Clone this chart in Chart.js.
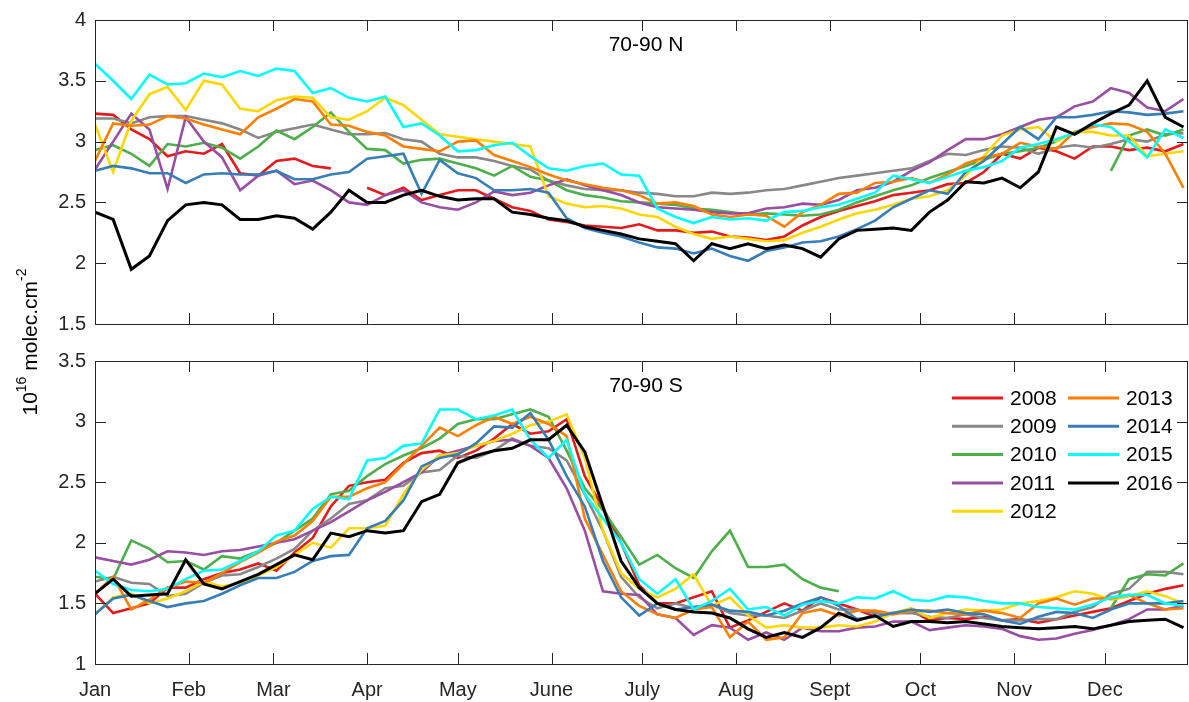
<!DOCTYPE html>
<html lang="en">
<head>
    <meta charset="UTF-8">
    <title>70-90 N / 70-90 S</title>
    <script src="https://cdn.jsdelivr.net/npm/chart.js"></script>
    <style>
        body {
            margin: 0;
            background-color: #fff;
        }
        #wrap {
            position: relative;
            width: 1189px;
            height: 702px;
        }
        #wrap canvas {
            position: absolute;
            left: 0;
            top: 0;
        }
    </style>
</head>
<body>
<div id="wrap">
    <canvas id="north" width="1189" height="702"></canvas>
    <canvas id="south" width="1189" height="702"></canvas>
</div>

<script>
    // day of year (every 6 days)
    const days = [0,6,12,18,24,30,36,42,48,54,60,66,72,78,84,90,96,102,108,114,120,126,132,138,144,150,156,162,168,174,180,
        186,192,198,204,210,216,222,228,234,240,246,252,258,264,270,276,282,288,294,300,306,312,318,324,330,336,342,348,354,360];

    const years = ['2008','2009','2010','2011','2012','2013','2014','2015','2016'];

    const monthTicks = [0,31,59,90,120,151,181,212,243,273,304,334];
    const monthLabels = ['Jan','Feb','Mar','Apr','May','June','July','Aug','Sept','Oct','Nov','Dec'];

    const yTicksN = [1.5, 2, 2.5, 3, 3.5, 4];
    const yTicksS = [1, 1.5, 2, 2.5, 3, 3.5];

    // 70-90 N
    const n2008 = [3.23,3.22,3.1,3.02,2.88,2.92,2.9,2.98,2.74,2.72,2.84,2.86,2.8,2.78,null,2.62,
        2.56,2.62,2.52,2.56,2.6,2.6,2.53,2.46,2.43,2.36,2.34,2.31,2.3,2.29,2.32,
        2.27,2.27,2.25,2.26,2.22,2.21,2.19,2.22,2.31,2.38,2.43,2.47,2.51,2.56,2.58,
        2.6,2.65,2.66,2.75,2.9,2.86,2.95,2.92,2.86,2.96,2.96,2.93,2.95,2.92,2.98];
    const n2009 = [3.19,3.19,3.15,3.2,3.21,3.21,3.18,3.15,3.1,3.03,3.08,3.11,3.14,3.1,3.06,3.06,
        3.07,3.02,3.0,2.9,2.87,2.87,2.84,2.8,2.77,2.68,2.64,2.61,2.6,2.6,2.58,
        2.57,2.55,2.55,2.58,2.57,2.58,2.6,2.61,2.64,2.67,2.7,2.72,2.74,2.76,2.78,
        2.84,2.9,2.89,2.93,2.96,2.95,2.9,2.95,2.97,2.95,2.98,3.02,3.0,3.06,3.07];
    const n2010 = [2.93,2.97,2.9,2.8,2.98,2.96,2.99,2.95,2.86,2.96,3.09,3.02,3.12,3.24,3.08,2.94,
        2.93,2.82,2.85,2.86,2.82,2.78,2.72,2.8,2.71,2.68,2.6,2.56,2.54,2.51,2.5,
        2.49,2.48,2.45,2.44,2.42,2.4,2.41,2.4,2.39,2.4,2.44,2.5,2.55,2.6,2.64,
        2.7,2.75,2.8,2.85,2.9,2.92,2.95,3.0,null,null,2.76,3.05,3.1,3.05,3.1];
    const n2011 = [2.77,3.0,3.23,3.1,2.61,3.2,3.0,2.87,2.6,2.72,2.76,2.65,2.68,2.6,2.5,2.48,
        2.56,2.6,2.5,2.46,2.44,2.5,2.59,2.56,2.58,2.64,2.69,2.64,2.6,2.56,2.5,
        2.46,2.45,2.44,2.42,2.41,2.41,2.45,2.46,2.49,2.48,2.52,2.6,2.62,2.67,2.76,
        2.83,2.93,3.02,3.02,3.06,3.12,3.18,3.2,3.29,3.33,3.44,3.4,3.28,3.25,3.35];
    const n2012 = [3.14,2.75,3.17,3.39,3.45,3.26,3.5,3.47,3.27,3.25,3.34,3.37,3.36,3.2,3.18,3.25,
        3.36,3.3,3.18,3.06,3.04,3.02,3.0,2.98,2.96,2.55,2.49,2.46,2.47,2.45,2.4,
        2.38,2.3,2.24,2.2,2.22,2.2,2.18,2.19,2.25,2.3,2.36,2.41,2.44,2.48,2.53,
        2.55,2.6,2.72,2.88,3.05,3.1,3.12,3.0,3.08,3.08,3.05,3.05,2.88,2.9,2.92];
    const n2013 = [2.84,3.15,3.13,3.14,3.21,3.19,3.14,3.1,3.06,3.2,3.27,3.35,3.33,3.14,3.13,3.08,
        3.05,2.96,2.94,2.92,3.0,3.01,2.89,2.84,2.79,2.73,2.68,2.65,2.62,2.6,2.56,
        2.49,2.5,2.47,2.4,2.38,2.4,2.39,2.3,2.42,2.48,2.57,2.58,2.66,2.67,2.7,
        2.66,2.73,2.82,2.87,2.9,2.99,2.96,2.94,3.08,3.12,3.15,3.14,3.08,2.9,2.62];
    const n2014 = [2.76,2.8,2.78,2.74,2.74,2.66,2.73,2.74,2.73,2.73,2.76,2.69,2.69,2.73,2.75,2.86,
        2.88,2.9,2.57,2.85,2.74,2.7,2.6,2.6,2.61,2.58,2.37,2.29,2.25,2.22,2.17,
        2.13,2.12,2.08,2.12,2.06,2.02,2.1,2.13,2.17,2.18,2.22,2.28,2.35,2.46,2.53,
        2.6,2.57,2.75,2.84,2.98,3.12,3.02,3.2,3.2,3.22,3.25,3.24,3.22,3.23,3.25];
    const n2015 = [3.64,3.5,3.35,3.55,3.47,3.48,3.56,3.53,3.58,3.54,3.6,3.58,3.4,3.44,3.36,3.33,
        3.37,3.12,3.15,3.05,2.92,2.93,2.97,2.99,2.88,2.78,2.76,2.8,2.82,2.73,2.72,
        2.45,2.38,2.33,2.38,2.36,2.37,2.35,2.42,2.43,2.46,2.48,2.53,2.58,2.72,2.69,
        2.66,2.71,2.76,2.79,2.84,2.95,2.98,3.02,3.07,3.14,3.12,3.0,2.87,3.1,3.03];
    const n2016 = [2.42,2.36,1.95,2.06,2.35,2.48,2.5,2.48,2.36,2.36,2.39,2.37,2.28,2.42,2.6,2.5,
        2.5,2.56,2.6,2.55,2.52,2.53,2.53,2.42,2.4,2.37,2.35,2.3,2.27,2.24,2.2,
        2.18,2.16,2.02,2.16,2.12,2.16,2.12,2.15,2.12,2.05,2.2,2.27,2.28,2.29,2.27,
        2.42,2.52,2.67,2.66,2.7,2.62,2.75,3.12,3.06,3.15,3.23,3.3,3.5,3.2,3.12];

    // 70-90 S
    const s2008 = [1.58,1.42,1.46,1.5,1.63,1.63,1.7,1.75,1.78,1.83,1.77,1.92,2.04,2.3,2.47,2.5,
        2.52,2.66,2.74,2.76,2.7,2.76,2.86,2.98,2.9,2.92,3.02,2.55,2.29,2.0,1.65,
        1.5,1.5,1.55,1.6,1.3,1.36,1.43,1.5,1.44,1.55,1.5,1.45,1.39,1.42,1.44,
        1.36,1.38,1.37,1.39,1.36,1.37,1.34,1.37,1.4,1.43,1.46,1.52,1.58,1.62,1.65];
    const s2009 = [1.68,1.72,1.67,1.66,1.56,1.58,1.67,1.73,1.74,1.8,1.87,1.95,2.1,2.2,2.32,2.35,
        2.45,2.47,2.58,2.6,2.72,2.7,2.76,2.86,2.8,2.78,2.68,2.4,2.1,1.72,1.55,
        1.46,1.5,1.46,1.49,1.42,1.4,1.4,1.38,1.44,1.5,1.45,1.45,1.42,1.42,1.42,
        1.39,1.38,1.41,1.38,1.36,1.36,1.37,1.37,1.43,1.47,1.58,1.62,1.76,1.76,1.74];
    const s2010 = [1.72,1.7,2.02,1.95,1.84,1.85,1.78,1.89,1.87,1.93,2.0,2.1,2.2,2.4,2.43,2.55,
        2.65,2.72,2.78,2.86,2.98,3.02,3.02,3.06,3.1,3.04,2.76,2.45,2.27,2.05,1.82,
        1.9,1.79,1.71,1.93,2.1,1.8,1.8,1.82,1.7,1.63,1.6,null,null,null,null,
        null,null,null,null,null,null,null,null,null,null,1.46,1.7,1.74,1.73,1.83];
    const s2011 = [1.88,1.85,1.82,1.86,1.93,1.92,1.9,1.93,1.94,1.97,2.0,2.03,2.1,2.17,2.26,2.35,
        2.42,2.5,2.58,2.72,2.76,2.8,2.84,2.85,2.8,2.7,2.45,2.1,1.6,1.58,1.57,
        1.41,1.38,1.24,1.32,1.3,1.2,1.26,1.2,1.3,1.27,1.27,1.3,1.31,1.35,1.35,
        1.28,1.3,1.32,1.31,1.29,1.23,1.2,1.21,1.25,1.28,1.32,1.37,1.45,1.45,1.48];
    const s2012 = [1.41,1.55,1.58,1.5,1.54,1.6,1.68,1.64,1.67,1.73,1.8,1.9,2.0,1.96,2.12,2.12,
        2.14,2.4,2.6,2.72,2.74,2.8,2.84,2.9,2.97,3.0,3.06,2.7,2.1,1.75,1.62,
        1.55,1.62,1.74,1.48,1.55,1.4,1.3,1.32,1.3,1.3,1.32,1.31,1.35,1.42,1.46,
        1.38,1.42,1.45,1.44,1.45,1.5,1.52,1.55,1.6,1.58,1.53,1.56,1.6,1.56,1.5];
    const s2013 = [1.58,1.72,1.45,1.53,1.63,1.68,1.67,1.75,1.84,1.92,2.01,2.06,2.18,2.38,2.38,2.45,
        2.5,2.65,2.8,2.95,2.88,2.97,3.04,2.98,3.04,2.98,2.88,2.2,1.9,1.6,1.48,
        1.41,1.38,1.45,1.47,1.22,1.35,1.2,1.22,1.42,1.45,1.4,1.44,1.44,1.41,1.44,
        1.44,1.42,1.41,1.44,1.42,1.38,1.5,1.54,1.49,1.54,1.54,1.57,1.5,1.45,1.46];
    const s2014 = [1.41,1.54,1.57,1.52,1.47,1.5,1.52,1.58,1.65,1.71,1.71,1.76,1.85,1.89,1.9,2.12,
        2.18,2.35,2.63,2.7,2.73,2.82,2.96,2.95,3.07,2.85,2.55,2.3,1.85,1.55,1.4,
        1.5,1.45,1.47,1.49,1.44,1.43,1.4,1.44,1.5,1.55,1.48,1.37,1.39,1.42,1.45,
        1.43,1.45,1.42,1.41,1.36,1.33,1.39,1.43,1.42,1.38,1.45,1.5,1.5,1.5,1.52];
    const s2015 = [1.77,1.66,1.61,1.6,1.62,1.7,1.77,1.78,1.85,1.93,2.06,2.1,2.28,2.38,2.36,2.68,
        2.7,2.8,2.82,3.1,3.1,3.02,3.05,3.1,2.85,2.7,2.85,2.4,2.2,2.0,1.7,
        1.58,1.7,1.45,1.52,1.62,1.45,1.47,1.4,1.49,1.52,1.5,1.55,1.54,1.6,1.53,
        1.52,1.56,1.55,1.52,1.5,1.5,1.47,1.46,1.45,1.49,1.55,1.57,1.57,1.5,1.48];
    const s2016 = [1.58,1.7,1.56,1.57,1.58,1.86,1.66,1.62,1.68,1.74,1.82,1.9,1.86,2.08,2.05,2.1,
        2.08,2.1,2.34,2.4,2.66,2.72,2.76,2.78,2.85,2.85,2.97,2.75,2.3,1.85,1.63,
        1.5,1.45,1.43,1.42,1.38,1.29,1.22,1.26,1.22,1.3,1.42,1.36,1.4,1.31,1.35,
        1.35,1.34,1.35,1.33,1.31,1.3,1.29,1.3,1.31,1.29,1.32,1.35,1.36,1.37,1.3];

    const northData = [n2008, n2009, n2010, n2011, n2012, n2013, n2014, n2015, n2016];
    const southData = [s2008, s2009, s2010, s2011, s2012, s2013, s2014, s2015, s2016];

    const colors = ['#e41a1c', '#888888', '#4daf4a', '#984ea3', '#ffd700', '#ff7f00', '#377eb8', '#00ffff', '#000000'];

    const FONT = '"Liberation Sans", Arial, sans-serif';
    const AXIS = '#262626';

    // box, inward ticks, tick labels, title, legend, y label
    const frame = {
        id: 'frame',
        afterDraw(chart) {
            const o = chart.options.plugins.frame;
            const {ctx, chartArea: a, scales: {x, y}} = chart;
            const tl = 11;
            ctx.save();
            ctx.strokeStyle = AXIS;
            ctx.lineWidth = 1;
            ctx.beginPath();
            ctx.rect(a.left + 0.5, a.top + 0.5, a.right - a.left - 1, a.bottom - a.top);
            monthTicks.forEach(d => {
                const px = Math.round(x.getPixelForValue(d)) + 0.5;
                ctx.moveTo(px, a.bottom); ctx.lineTo(px, a.bottom - tl);
                ctx.moveTo(px, a.top); ctx.lineTo(px, a.top + tl);
            });
            o.yTicks.forEach(v => {
                const py = Math.round(y.getPixelForValue(v)) + 0.5;
                ctx.moveTo(a.left, py); ctx.lineTo(a.left + tl, py);
                ctx.moveTo(a.right, py); ctx.lineTo(a.right - tl, py);
            });
            ctx.stroke();

            ctx.fillStyle = '#262626';
            ctx.font = '20px ' + FONT;
            ctx.textAlign = 'right';
            ctx.textBaseline = 'middle';
            o.yTicks.forEach(v => {
                ctx.fillText(String(v), a.left - 9, y.getPixelForValue(v));
            });

            if (o.months) {
                ctx.textAlign = 'center';
                ctx.textBaseline = 'top';
                monthTicks.forEach((d, i) => {
                    ctx.fillText(monthLabels[i], x.getPixelForValue(d), a.bottom + 16);
                });
            }

            ctx.fillStyle = '#000';
            ctx.font = '21px ' + FONT;
            ctx.textAlign = 'center';
            ctx.textBaseline = 'middle';
            ctx.fillText(o.title, 646, a.top + 25);

            if (o.legend) {
                ctx.textAlign = 'left';
                ctx.lineWidth = 3;
                years.forEach((yr, i) => {
                    const col = i < 5 ? 0 : 1;
                    const row = i < 5 ? i : i - 5;
                    const lx = 952 + col * 116;
                    const ly = 398 + row * 28.3;
                    ctx.strokeStyle = colors[i];
                    ctx.beginPath();
                    ctx.moveTo(lx, ly); ctx.lineTo(lx + 51, ly);
                    ctx.stroke();
                    ctx.fillText(yr, lx + 58, ly + 1);
                });
            }

            if (o.ylabel) {
                ctx.translate(31, 342);
                ctx.rotate(-Math.PI / 2);
                const parts = [['10', 21, 0], ['16', 14, -9], [' molec.cm', 21, 0], ['-2', 14, -9]];
                let w = 0;
                parts.forEach(p => { ctx.font = p[1] + 'px ' + FONT; w += ctx.measureText(p[0]).width; });
                let cx = -w / 2;
                ctx.textAlign = 'left';
                parts.forEach(p => {
                    ctx.font = p[1] + 'px ' + FONT;
                    ctx.fillText(p[0], cx, p[2]);
                    cx += ctx.measureText(p[0]).width;
                });
            }
            ctx.restore();
        }
    };

    function series(vals) {
        return days.map((d, i) => ({x: d, y: vals[i]}));
    }

    function makeChart(id, data, yMin, yMax, yTicks, title, padTop, padBottom, extra) {
        return new Chart(document.getElementById(id), {
            type: 'line',
            data: {
                datasets: years.map((yr, i) => ({
                    label: yr,
                    data: series(data[i]),
                    borderColor: colors[i],
                    borderWidth: i === 8 ? 3 : 2.6,
                    pointRadius: 0,
                    tension: 0,
                    spanGaps: false,
                    order: 8 - i
                }))
            },
            options: {
                responsive: false,
                animation: false,
                events: [],
                layout: {padding: {left: 95, right: 1, top: padTop, bottom: padBottom}},
                scales: {
                    x: {type: 'linear', min: 0, max: 361.5, display: false},
                    y: {min: yMin, max: yMax, display: false}
                },
                plugins: {
                    legend: {display: false},
                    tooltip: {enabled: false},
                    frame: Object.assign({yTicks: yTicks, title: title}, extra)
                }
            },
            plugins: [frame]
        });
    }

    makeChart('north', northData, 1.5, 4, yTicksN, '70-90 N', 20, 378, {ylabel: true});
    makeChart('south', southData, 1, 3.5, yTicksS, '70-90 S', 361, 38, {months: true, legend: true});
</script>
</body>
</html>
